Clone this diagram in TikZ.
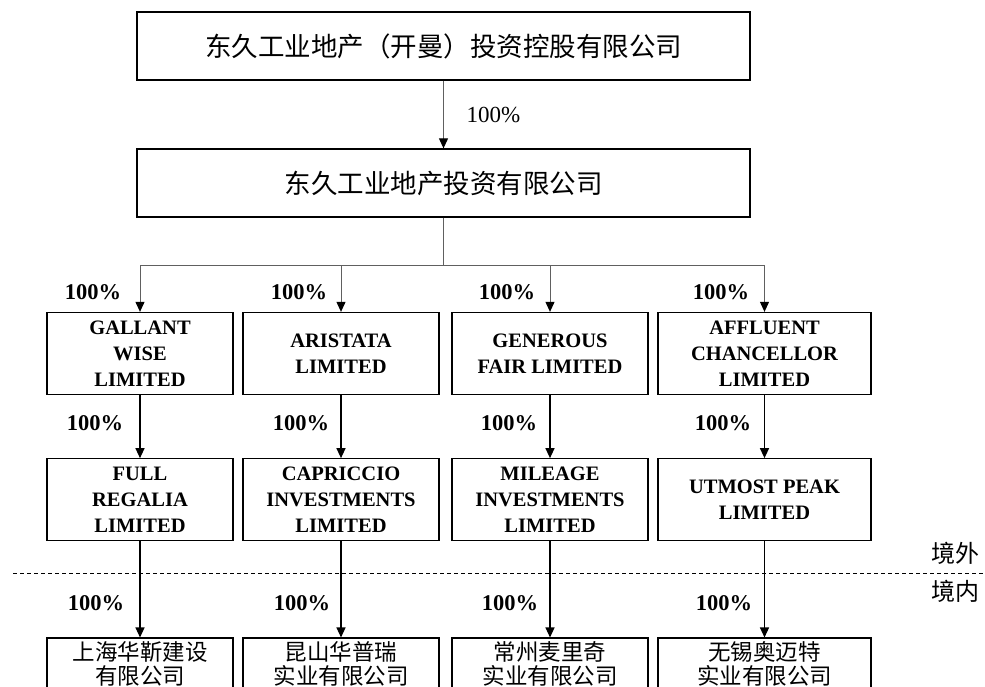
\documentclass[tikz,border=0pt]{standalone}
\usepackage{fontspec}
\setmainfont{Liberation Serif}
\newfontfamily\cjk{Noto Sans CJK SC}
\usetikzlibrary{arrows.meta, positioning}

\begin{document}
\begin{tikzpicture}[x=1pt, y=-1pt,
    entity/.style={draw, line width=1.3pt, align=center, inner sep=0pt},
    holding/.style={entity, font=\cjk\fontsize{26.5}{30}\selectfont, minimum width=613pt, minimum height=68pt},
    offshore/.style={entity, font=\fontsize{20.5}{26}\selectfont\bfseries, minimum height=82pt},
    onshore/.style={entity, font=\cjk\fontsize{22.5}{24}\selectfont, inner ysep=3pt},
    share/.style={font=\fontsize{22.5}{24}\selectfont\bfseries},
    region/.style={font=\cjk\fontsize{24}{26}\selectfont},
    feed/.style={gray!75!black, line width=1pt, -{Triangle[length=10pt, width=9pt, color=black]}},
    own/.style={black, line width=1.3pt, -{Triangle[length=10pt, width=9pt]}}]
    \useasboundingbox (0,0) rectangle (985,686);
    \clip (0,0) rectangle (985,686);
    % Konzernspitze
    \node[holding] (top) at (443.5,46) {东久工业地产（开曼）投资控股有限公司};
    \node[holding] (mid) at (443.5,183) {东久工业地产投资有限公司};
    \draw[feed] (top) -- (mid);
    \node[anchor=west, font=\fontsize{23}{24}\selectfont] (p0) at (463,115) {100\%};
    % Ebene 1 (境外)
    \node[offshore, minimum width=186pt] (gw) at (140,353.5) {GALLANT\\WISE\\LIMITED};
    \node[offshore, minimum width=196pt] (ar) at (341,353.5) {ARISTATA\\LIMITED};
    \node[offshore, minimum width=196pt] (gf) at (550,353.5) {GENEROUS\\FAIR LIMITED};
    \node[offshore, minimum width=213pt] (ac) at (764.5,353.5) {AFFLUENT\\CHANCELLOR\\LIMITED};
    \draw[feed, -] (mid.south) -- ++(0,48) coordinate (bus);
    \foreach \b in {gw,ar,gf,ac}
      \draw[feed] (bus) -| (\b.north);
    % Ebene 2 (境外)
    \node[offshore, minimum width=186pt, below=63pt of gw] (fr) {FULL\\REGALIA\\LIMITED};
    \node[offshore, minimum width=196pt, below=63pt of ar] (ci) {CAPRICCIO\\INVESTMENTS\\LIMITED};
    \node[offshore, minimum width=196pt, below=63pt of gf] (mi) {MILEAGE\\INVESTMENTS\\LIMITED};
    \node[offshore, minimum width=213pt, below=63pt of ac] (up) {UTMOST PEAK\\LIMITED};
    % Ebene 3 (境内)
    \node[onshore, minimum width=186pt, below=96pt of fr] (sh) {上海华靳建设\\有限公司};
    \node[onshore, minimum width=196pt, below=96pt of ci] (ks) {昆山华普瑞\\实业有限公司};
    \node[onshore, minimum width=196pt, below=96pt of mi] (cz) {常州麦里奇\\实业有限公司};
    \node[onshore, minimum width=213pt, below=96pt of up] (wx) {无锡奥迈特\\实业有限公司};
    \foreach \a/\b/\c in {gw/fr/sh, ar/ci/ks, gf/mi/cz, ac/up/wx} {
      \draw[own] (\a) -- (\b);
      \draw[own] (\b) -- (\c);
    }
    % Beteiligungsquoten
    \foreach \x [count=\i] in {93,299,507,721} {
      \node[share] (pa\i) at (\x,292) {100\%};
      \node[share] (pb\i) at (\x+2,423) {100\%};
      \node[share] (pc\i) at (\x+3,603) {100\%};
    }
    % Grenze
    \draw[dashed, dash pattern=on 4pt off 3pt, line width=0.8pt] (13,573) -- (985,573);
    \node[region] (abroad) at (955,553) {境外};
    \node[region] (home) at (955,591) {境内};
\end{tikzpicture}
\end{document}
